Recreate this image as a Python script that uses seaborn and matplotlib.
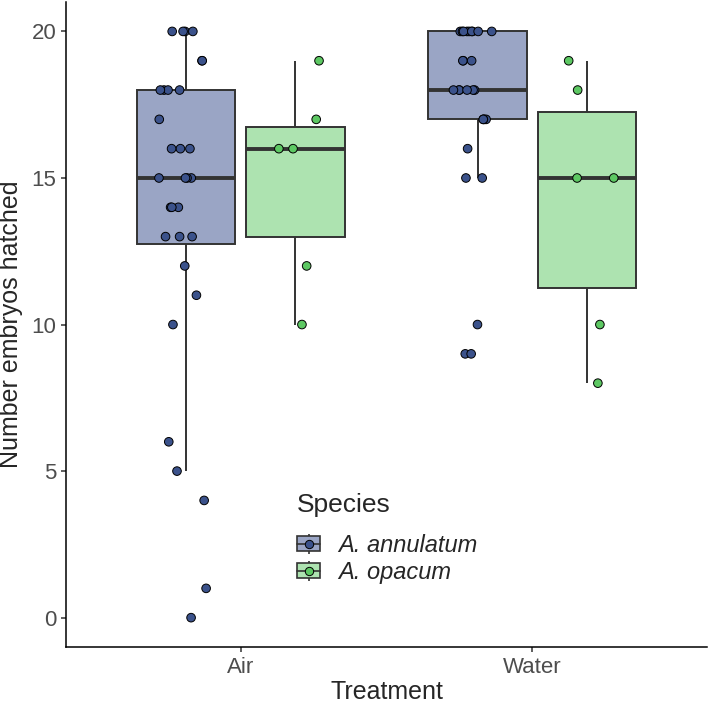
import numpy as np
import pandas as pd
import matplotlib
matplotlib.use("Agg")
import matplotlib.pyplot as plt
import seaborn as sns
from matplotlib.patches import Patch
from matplotlib.lines import Line2D
from matplotlib.legend_handler import HandlerTuple

# values (number of embryos hatched per clutch)
treatments = ["Air", "Water"]
species = ["A. annulatum", "A. opacum"]

air_annulatum = [20, 20, 20, 20, 19, 19, 18, 18, 18, 18, 17, 16, 16, 16, 15, 15,
                 15, 15, 14, 14, 14, 13, 13, 13, 12, 11, 10, 6, 5, 4, 1, 0]
air_opacum = [19, 17, 16, 16, 12, 10]
water_annulatum = [20, 20, 20, 20, 20, 20, 20, 20, 20, 19, 19, 19, 18, 18, 18, 18,
                   18, 18, 17, 17, 17, 17, 16, 15, 15, 10, 9, 9]
water_opacum = [19, 18, 15, 15, 10, 8]

point_colors = ["#3B528B", "#5DC863"]
box_colors = ["#9AA5C5", "#ADE3B0"]

groups = [("Air", "A. annulatum", air_annulatum), ("Air", "A. opacum", air_opacum),
          ("Water", "A. annulatum", water_annulatum), ("Water", "A. opacum", water_opacum)]
df = pd.concat([pd.DataFrame({"Treatment": t, "Species": s, "Hatched": v}) for t, s, v in groups],
               ignore_index=True)

sns.set_theme(style="ticks")
plt.rcParams["font.family"] = ["Liberation Sans", "DejaVu Sans"]

fig = plt.figure(figsize=(7.09, 7.04), dpi=100)
ax = fig.add_axes([0.0931, 0.081, 0.904, 0.916])

edge = "#333333"
sns.boxplot(data=df, x="Treatment", y="Hatched", hue="Species", order=treatments,
            hue_order=species, palette=box_colors, saturation=1, width=0.75, gap=0.1,
            showfliers=False, showcaps=False, linecolor=edge, linewidth=1.4,
            medianprops=dict(linewidth=2.8, color=edge), legend=False, ax=ax)

np.random.seed(3)
sns.stripplot(data=df, x="Treatment", y="Hatched", hue="Species", order=treatments,
              hue_order=species, palette=point_colors, dodge=True, jitter=0.17,
              size=6.2, linewidth=0.7, edgecolor="black", legend=False, ax=ax, zorder=3)

ax.set_xlim(-0.6, 1.6)
ax.set_ylim(-1, 21)
ax.set_yticks([0, 5, 10, 15, 20])
sns.despine(ax=ax)
for side in ["left", "bottom"]:
    ax.spines[side].set_linewidth(1.1)
    ax.spines[side].set_color("black")
ax.tick_params(axis="both", labelsize=16, labelcolor="#4D4D4D", color=edge, length=3.5, width=1.1)
ax.set_xlabel("Treatment", fontsize=18, labelpad=1.5)
ax.set_ylabel("Number embryos hatched", fontsize=18, labelpad=6)

# legend keys: whisker + box + median + point
handles = []
for pc, bc in zip(point_colors, box_colors):
    whisker = Line2D([0], [0], color=edge, marker="|", markersize=15, markeredgewidth=1.2, linestyle="None")
    box = Patch(facecolor=bc, edgecolor=edge, linewidth=1.2)
    median = Line2D([0], [0], color=edge, linewidth=1.2)
    dot = Line2D([0], [0], marker="o", color=pc, markeredgecolor="black", markeredgewidth=0.7,
                 markersize=6, linestyle="None")
    handles.append((whisker, box, median, dot))

leg = ax.legend(handles, species, title="Species", loc="upper left", bbox_to_anchor=(0.36, 0.238),
                frameon=False, fontsize=17, title_fontsize=19, borderpad=0, borderaxespad=0,
                handlelength=1.0, handleheight=0.6, handletextpad=0.75, labelspacing=0.15,
                numpoints=1, alignment="left", handler_map={tuple: HandlerTuple(ndivide=1)})
leg._legend_box.sep = 12
for txt in leg.get_texts():
    txt.set_fontstyle("italic")

plt.savefig("out.png", dpi=100)
